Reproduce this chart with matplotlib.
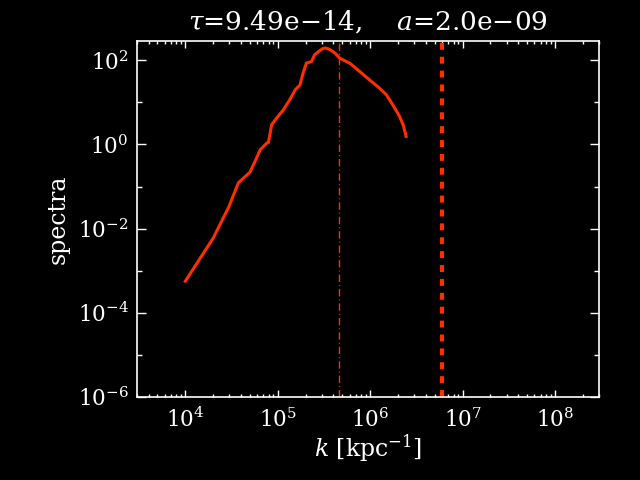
import matplotlib
matplotlib.use("Agg")
import matplotlib.pyplot as plt
from matplotlib.ticker import LogLocator, FixedLocator, LogFormatterMathtext, NullFormatter

# ---- data ----
k_vals = [1.00e4, 2.00e4, 2.95e4, 3.76e4, 4.07e4, 5.01e4, 5.89e4, 6.46e4, 7.59e4, 7.94e4,
          8.61e4, 9.77e4, 1.15e5, 1.35e5, 1.55e5, 1.74e5, 1.88e5, 2.04e5, 2.32e5, 2.51e5,
          2.82e5, 3.09e5, 3.31e5, 3.63e5, 4.17e5, 4.68e5, 6.03e5, 7.76e5, 9.89e5, 1.26e6,
          1.50e6, 1.76e6, 2.09e6, 2.29e6, 2.45e6]
spectra = [5.62e-4, 5.89e-3, 3.24e-2, 0.123, 0.145, 0.219, 0.468, 0.741, 1.07, 1.12,
           2.95, 4.27, 6.61, 11.5, 20.0, 25.7, 49.0, 85.1, 93.3, 135,
           166, 191, 195, 182, 148, 112, 85.1, 53.7, 33.9, 21.9,
           15.1, 8.71, 4.57, 2.82, 1.55]
k_dashdot = 4.66e5
k_dashed = 6.05e6
title_tau = "9.49e$-$14"
title_a = "2.0e$-$09"
y_major = [1e-6, 1e-4, 1e-2, 1e0, 1e2]
y_minor = [1e-5, 1e-3, 1e-1, 1e1]

RED = "#ff2e00"

plt.rcParams["font.family"] = ["DejaVu Serif"]
plt.rcParams["mathtext.fontset"] = "dejavuserif"
plt.rcParams["lines.scale_dashes"] = False

fig = plt.figure(figsize=(6.4, 4.8), dpi=100, facecolor="black")
ax = fig.add_axes([0.214, 0.173, 0.722, 0.742], facecolor="black")

ax.plot(k_vals, spectra, color=RED, lw=2.2, solid_joinstyle="miter")
ax.axvline(k_dashdot, color=RED, lw=1.0, linestyle=(0, (5.3, 2.2, 0.7, 2.2)))
ax.axvline(k_dashed, color=RED, lw=3.0, linestyle=(0, (5.0, 5.0)))

ax.set_xscale("log")
ax.set_yscale("log")
ax.set_xlim(3e3, 3e8)
ax.set_ylim(1e-6, 2.9e2)

ax.xaxis.set_major_locator(LogLocator(base=10, numticks=20))
ax.xaxis.set_minor_locator(LogLocator(base=10, subs=range(2, 10), numticks=50))
ax.xaxis.set_major_formatter(LogFormatterMathtext())
ax.xaxis.set_minor_formatter(NullFormatter())
ax.yaxis.set_major_locator(FixedLocator(y_major))
ax.yaxis.set_minor_locator(FixedLocator(y_minor))
ax.yaxis.set_major_formatter(LogFormatterMathtext())
ax.yaxis.set_minor_formatter(NullFormatter())

for sp in ax.spines.values():
    sp.set_color("white")
    sp.set_linewidth(1.2)

ax.tick_params(axis="both", which="both", direction="in", colors="white",
               top=True, right=True, labelsize=15.5, width=1.0)
ax.tick_params(axis="x", which="major", length=5, pad=8)
ax.tick_params(axis="x", which="minor", length=2.5)
ax.tick_params(axis="y", which="major", length=6.5, pad=6)
ax.tick_params(axis="y", which="minor", length=3.5)

ax.set_title(r"$\tau$=" + title_tau + r",    $a$=" + title_a, color="white",
             fontsize=19, pad=8)
ax.set_xlabel(r"$k$ [kpc$^{-1}$]", color="white", fontsize=17, labelpad=0)
ax.set_ylabel("spectra", color="white", fontsize=17, labelpad=6)

fig.savefig("out.png", dpi=100, facecolor="black")
